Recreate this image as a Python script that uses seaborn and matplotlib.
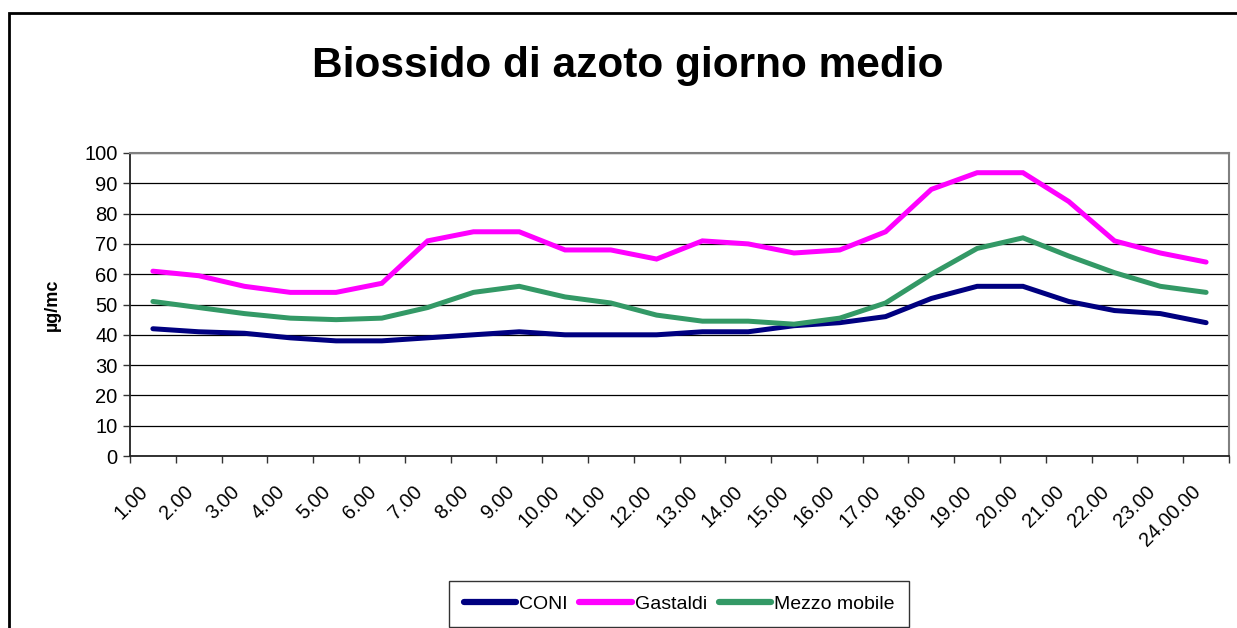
import matplotlib
matplotlib.use("Agg")
import matplotlib.pyplot as plt
import matplotlib.transforms as mtransforms
import seaborn as sns
import pandas as pd
from matplotlib.patches import Rectangle
from matplotlib.ticker import FixedLocator

hours = ["1.00", "2.00", "3.00", "4.00", "5.00", "6.00", "7.00", "8.00", "9.00",
         "10.00", "11.00", "12.00", "13.00", "14.00", "15.00", "16.00", "17.00",
         "18.00", "19.00", "20.00", "21.00", "22.00", "23.00", "24.00.00"]
coni = [42, 41, 40.5, 39, 38, 38, 39, 40, 41, 40, 40, 40,
        41, 41, 43, 44, 46, 52, 56, 56, 51, 48, 47, 44]
gastaldi = [61, 59.5, 56, 54, 54, 57, 71, 74, 74, 68, 68, 65,
            71, 70, 67, 68, 74, 88, 93.5, 93.5, 84, 71, 67, 64]
mezzo = [51, 49, 47, 45.5, 45, 45.5, 49, 54, 56, 52.5, 50.5, 46.5,
         44.5, 44.5, 43.5, 45.5, 50.5, 60, 68.5, 72, 66, 60.5, 56, 54]
series_names = ["CONI", "Gastaldi", "Mezzo mobile"]
colors = ["#000080", "#FF00FF", "#339966"]
title = "Biossido di azoto giorno medio"
ylabel = "µg/mc"

rows = []
for name, vals in zip(series_names, [coni, gastaldi, mezzo]):
    for i, v in enumerate(vals):
        rows.append({"pos": i, "value": v, "serie": name})
df = pd.DataFrame(rows)

sns.set_theme(style="white")
plt.rcParams['font.family'] = ['Liberation Sans', 'DejaVu Sans']
plt.rcParams['text.color'] = 'black'
plt.rcParams['axes.labelcolor'] = 'black'
plt.rcParams['xtick.color'] = 'black'
plt.rcParams['ytick.color'] = 'black'

W, H = 1237, 628
fig = plt.figure(figsize=(W / 100, H / 100), dpi=100)
ax = fig.add_axes([130 / W, 1 - 456 / H, (1229 - 130) / W, (456 - 153) / H])

sns.lineplot(data=df, x="pos", y="value", hue="serie", palette=colors,
             hue_order=series_names, linewidth=3.6, ax=ax, legend=False,
             solid_capstyle="round", solid_joinstyle="miter")

n = len(hours)
ax.set_xlim(-0.5, n - 0.5)
ax.set_ylim(0, 100)
ax.set_yticks(range(0, 101, 10))
ax.yaxis.grid(True, color="black", linewidth=0.9)
ax.set_axisbelow(True)

ax.xaxis.set_major_locator(FixedLocator([i - 0.5 for i in range(n + 1)]))
ax.xaxis.set_major_formatter(plt.NullFormatter())
ax.xaxis.set_minor_locator(FixedLocator(list(range(n))))
ax.set_xticklabels(hours, minor=True)
ax.tick_params(axis="x", which="major", direction="out", length=5, width=1, color="#333333", bottom=True)
ax.tick_params(axis="x", which="minor", length=0, pad=23.5, labelsize=14.3)
shift = mtransforms.ScaledTranslation(-8 / 100, 0, fig.dpi_scale_trans)
for lbl in ax.get_xticklabels(minor=True):
    lbl.set_rotation(45)
    lbl.set_ha("right")
    lbl.set_va("center")
    lbl.set_rotation_mode("anchor")
    lbl.set_transform(lbl.get_transform() + shift)
ax.tick_params(axis="y", direction="out", length=5, width=1, color="#333333", left=True, labelsize=14.5, pad=4)

ax.set_xlabel("")
ax.set_ylabel(ylabel, fontsize=13, fontweight="bold")
ax.yaxis.set_label_coords(-0.063, 0.5)

for side in ["top", "right"]:
    ax.spines[side].set_color("#808080")
    ax.spines[side].set_linewidth(1.5)
for side in ["left", "bottom"]:
    ax.spines[side].set_color("#222222")
    ax.spines[side].set_linewidth(1.3)

fig.text(628 / W, 1 - 66 / H, title, ha="center", va="center",
         fontsize=30.5, fontweight="bold")

handles = [plt.Line2D([0], [0], color=c, linewidth=4.5) for c in colors]
leg = fig.legend(handles, series_names, loc="center", bbox_to_anchor=(679 / W, 1 - 604 / H),
                 ncol=3, frameon=True, fancybox=False, fontsize=14, handlelength=2.7,
                 handletextpad=0.15, columnspacing=0.6, borderpad=0.75, borderaxespad=0)
leg.get_frame().set_edgecolor("black")
leg.get_frame().set_linewidth(1.0)

fig.patches.append(Rectangle((9 / W, -0.1), 1.2, 1.1 - 13 / H, transform=fig.transFigure,
                             fill=False, edgecolor="black", linewidth=2.0, clip_on=False))

fig.savefig("out.png", dpi=100)
